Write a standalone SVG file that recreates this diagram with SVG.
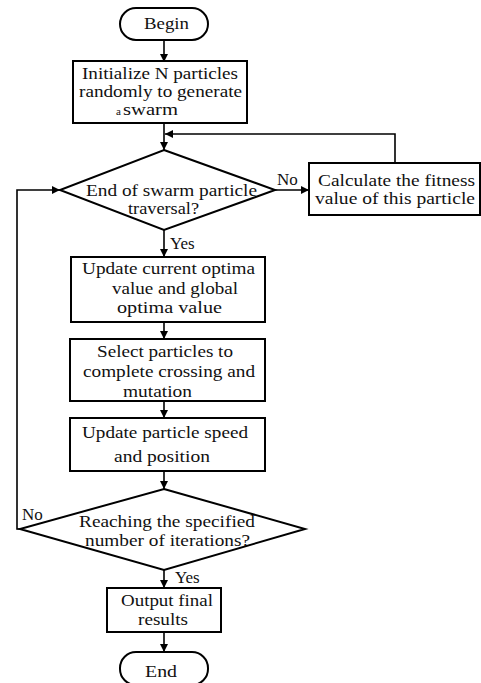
<svg xmlns="http://www.w3.org/2000/svg" width="481" height="683" viewBox="0 0 481 683">
<style>
.n{fill:#fff;stroke:#000;stroke-width:2}
.t{font-family:"Liberation Serif","Times New Roman",serif;font-size:17px;fill:#111}
.s{font-size:16px}
.c{fill:none;stroke:#000;stroke-width:1.6}
</style>
<defs>
<marker id="a" viewBox="0 0 10 10" refX="10" refY="5" markerWidth="8" markerHeight="8" markerUnits="userSpaceOnUse" orient="auto">
<path d="M0,0L10,5L0,10z" fill="#000"/>
</marker>
</defs>
<rect width="481" height="683" fill="#fff"/>
<g id="connectors">
<path class="c" d="M164,40V62" marker-end="url(#a)"/>
<path class="c" d="M164,123V150" marker-end="url(#a)"/>
<path class="c" d="M395,163V134H165" marker-end="url(#a)"/>
<path class="c" d="M275,190H309" marker-end="url(#a)"/>
<path class="c" d="M164,230V257" marker-end="url(#a)"/>
<path class="c" d="M164,322V339" marker-end="url(#a)"/>
<path class="c" d="M164,401V418" marker-end="url(#a)"/>
<path class="c" d="M164,471V489" marker-end="url(#a)"/>
<path class="c" d="M20,529H17V190H60" marker-end="url(#a)"/>
<path class="c" d="M164,570V588" marker-end="url(#a)"/>
<path class="c" d="M164,632V652" marker-end="url(#a)"/>
<text class="t" x="277" y="185">No</text>
<text class="t" x="170" y="249">Yes</text>
<text class="t" x="22" y="520">No</text>
<text class="t" x="175" y="583">Yes</text>
</g>
<g id="begin">
<rect class="n" x="120" y="8" width="88" height="32" rx="16"/>
<text class="t" x="144" y="29" textLength="45" lengthAdjust="spacingAndGlyphs">Begin</text>
</g>
<g id="init">
<rect class="n" x="73" y="61" width="174" height="62"/>
<text class="t s" x="82" y="79" textLength="156" lengthAdjust="spacingAndGlyphs">Initialize N particles</text>
<text class="t s" x="79" y="97" textLength="163" lengthAdjust="spacingAndGlyphs">randomly to generate</text>
<text class="t s" x="116" y="115"><tspan font-size="11">a</tspan><tspan x="123" textLength="55" lengthAdjust="spacingAndGlyphs">swarm</tspan></text>
</g>
<g id="check">
<polygon class="n" points="164,150 275,190 164,230 60,190"/>
<text class="t s" x="86" y="196" textLength="171" lengthAdjust="spacingAndGlyphs">End of swarm particle</text>
<text class="t s" x="128" y="214" textLength="71" lengthAdjust="spacingAndGlyphs">traversal?</text>
</g>
<g id="fitness">
<rect class="n" x="309" y="163" width="171" height="52"/>
<text class="t" x="318" y="186" textLength="157" lengthAdjust="spacingAndGlyphs">Calculate the fitness</text>
<text class="t" x="315" y="204" textLength="160" lengthAdjust="spacingAndGlyphs">value of this particle</text>
</g>
<g id="update">
<rect class="n" x="71" y="257" width="194" height="65"/>
<text class="t" x="82" y="274" textLength="173" lengthAdjust="spacingAndGlyphs">Update current optima</text>
<text class="t" x="112" y="294" textLength="126" lengthAdjust="spacingAndGlyphs">value and global</text>
<text class="t" x="117" y="313" textLength="105" lengthAdjust="spacingAndGlyphs">optima  value</text>
</g>
<g id="select">
<rect class="n" x="70" y="339" width="195" height="62"/>
<text class="t" x="97" y="357" textLength="136" lengthAdjust="spacingAndGlyphs">Select particles to</text>
<text class="t" x="83" y="377" textLength="172" lengthAdjust="spacingAndGlyphs">complete crossing and</text>
<text class="t" x="123" y="397" textLength="69" lengthAdjust="spacingAndGlyphs">mutation</text>
</g>
<g id="speed">
<rect class="n" x="70" y="418" width="195" height="53"/>
<text class="t" x="82" y="438" textLength="166" lengthAdjust="spacingAndGlyphs">Update particle speed</text>
<text class="t" x="114" y="462" textLength="96" lengthAdjust="spacingAndGlyphs">and position</text>
</g>
<g id="iter">
<polygon class="n" points="164,489 305,529 164,570 20,529"/>
<text class="t" x="79" y="527" textLength="176" lengthAdjust="spacingAndGlyphs">Reaching the specified</text>
<text class="t" x="85" y="546" textLength="165" lengthAdjust="spacingAndGlyphs">number of iterations?</text>
</g>
<g id="output">
<rect class="n" x="107" y="588" width="114" height="44"/>
<text class="t" x="121" y="606" textLength="92" lengthAdjust="spacingAndGlyphs">Output final</text>
<text class="t" x="138" y="625" textLength="50" lengthAdjust="spacingAndGlyphs">results</text>
</g>
<g id="end">
<rect class="n" x="120" y="652" width="88" height="33" rx="16"/>
<text class="t" x="145" y="677" textLength="32" lengthAdjust="spacingAndGlyphs">End</text>
</g>
</svg>
